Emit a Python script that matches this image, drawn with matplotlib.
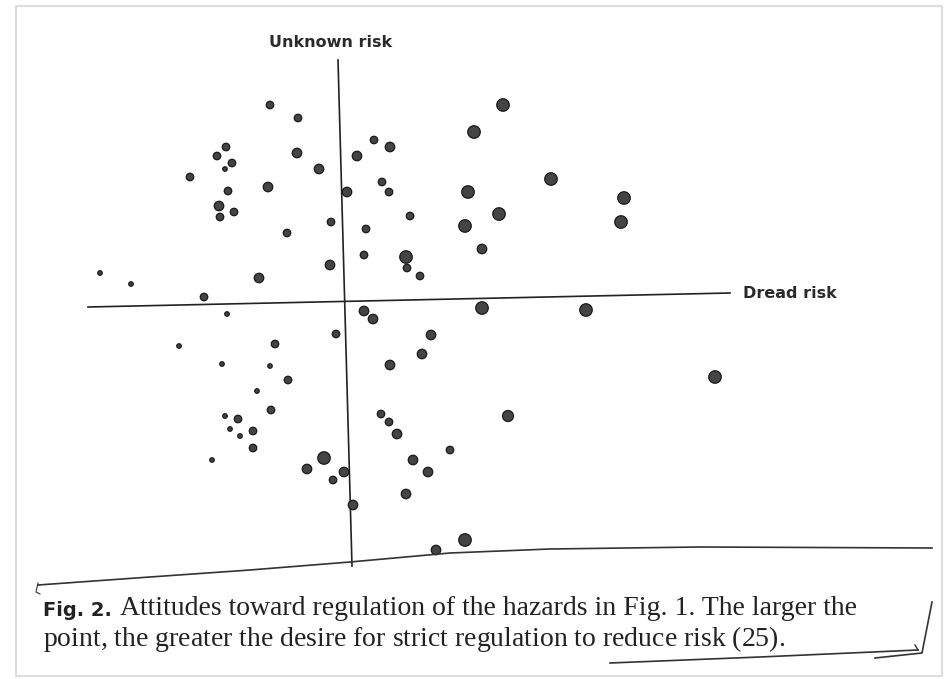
import matplotlib.pyplot as plt
import numpy as np

plt.rcParams['mathtext.fontset'] = 'custom'
plt.rcParams['mathtext.rm'] = 'Liberation Serif'
plt.rcParams['mathtext.it'] = 'Liberation Serif:italic'

# Factor-space position of each hazard (dread risk, unknown risk)
dread = [-0.76, -0.48, -1.20, -1.29, -1.14, -1.21, -0.49, -0.27, -1.56, -1.18,
         -0.78, 0.01, 0.11, -1.27, -1.12, -1.26, -0.15, -0.59, -0.16, -0.87,
         -2.46, -2.15, -1.42, 1.57, 1.28, 0.28, 0.44, 0.36, 0.43, 1.22,
         2.05, 2.78, 2.75, 1.53, 1.19, 0.64, 0.20, 1.36, 0.18, 0.60,
         0.61, 0.74, 0.18, 0.27, 1.36, 2.40, -0.10, 0.85, 0.76, 0.44,
         3.69, 1.62, 0.35, 0.43, 0.51, 1.04, 0.67, 0.82, 0.60, 1.19,
         0.90, -1.19, -1.67, -0.71, -1.24, -0.76, -0.58, -0.89, -0.75, -1.21,
         -1.08, -1.16, -0.93, -1.06, -0.93, -1.34, -0.22, -0.39, -0.02, -0.13,
         0.07]
unknown = [1.95, 1.82, 1.53, 1.44, 1.37, 1.31, 1.47, 1.31, 1.23, 1.09,
           1.13, 1.08, 1.44, 0.94, 0.88, 0.83, 0.78, 0.67, 0.35, 0.22,
           0.27, 0.16, 0.03, 1.95, 1.68, 1.60, 1.53, 1.18, 1.08, 1.08,
           1.21, 1.02, 0.78, 0.86, 0.74, 0.84, 0.71, 0.51, 0.45, 0.43,
           0.32, 0.24, -0.11, -0.19, -0.08, -0.10, -0.34, -0.35, -0.54, -0.65,
           -0.77, -1.16, -1.14, -1.22, -1.34, -1.50, -1.60, -1.72, -1.94, -2.40,
           -2.50, -0.14, -0.46, -0.44, -0.64, -0.66, -0.80, -0.91, -1.10, -1.16,
           -1.19, -1.29, -1.31, -1.36, -1.48, -1.60, -1.58, -1.69, -1.72, -1.80,
           -2.05]
# desire for strict regulation (1 = weak ... 4 = strong)
regulation = [2, 2, 2, 2, 2, 1, 3, 3, 2, 2,
              3, 3, 3, 3, 2, 2, 2, 2, 3, 3,
              1, 1, 2, 4, 4, 2, 3, 2, 2, 4,
              4, 4, 4, 4, 4, 2, 2, 3, 2, 4,
              2, 2, 3, 3, 4, 4, 2, 3, 3, 3,
              4, 3.5, 2, 2, 3, 2, 3, 3, 3, 4,
              3, 1, 1, 2, 1, 1, 2, 1, 2, 1,
              2, 1, 2, 1, 2, 1, 4, 3, 3, 2,
              3]

diam_px = {1: 4.5, 2: 7.5, 3: 9.5, 3.5: 11, 4: 12.5}
sizes = [(diam_px[r] * 0.72) ** 2 for r in regulation]

fig = plt.figure(figsize=(9.47, 6.79), dpi=100)
ax = fig.add_axes([0, 0, 1, 1])
ax.set_xlim(-3.46, 6.01)
ax.set_ylim(-3.79, 3.00)
ax.axis('off')

# axes of the factor space (slightly skewed, as in the scan)
ax.plot([-2.58, 3.84], [-0.07, 0.07], color='#222222', lw=1.2)
ax.plot([-0.08, 0.06], [2.40, -2.66], color='#222222', lw=1.2)

ax.scatter(dread, unknown, s=sizes, c='#444444', edgecolors='#1a1a1a',
           linewidths=0.9, zorder=3)

ax.text(-0.15, 2.50, 'Unknown risk', ha='center', va='bottom',
        fontsize=11.5, fontweight='semibold', color='#2a2a2a')
ax.text(3.97, 0.07, 'Dread risk', ha='left', va='center',
        fontsize=11.5, fontweight='bold', color='#2a2a2a')

# page edges / pen marks of the scan (pixel coords)
tr = fig.dpi_scale_trans
def px_line(xs, ys, **kw):
    fig.add_artist(plt.Line2D(np.array(xs) / 100, (679 - np.array(ys)) / 100,
                              transform=tr, **kw))

px_line([38, 150, 250, 350, 450, 550, 700, 932],
        [585, 577, 570, 562, 553, 549, 547, 548], color='#333333', lw=1.2)
px_line([38, 36, 40], [583, 592, 594], color='#333333', lw=0.8)
px_line([610, 760, 918], [663, 657, 650], color='#333333', lw=1.2)
px_line([875, 922, 932], [658, 653, 602], color='#333333', lw=1.2)
px_line([915, 918], [645, 650], color='#333333', lw=1.0)
px_line([16, 16, 942, 942, 16], [676, 6, 6, 676, 676], color='#dddddd', lw=1.5)

# caption
fig.text(43 / 947, 1 - 616 / 679, 'Fig. 2.', fontsize=14, fontweight='bold',
         family='DejaVu Sans', color='#222222', va='baseline')
fig.text(120 / 947, 1 - 615 / 679,
         'Attitudes toward regulation of the hazards in Fig. 1. The larger the',
         fontsize=20, family='Liberation Serif', color='#222222', va='baseline')
fig.text(43 / 947, 1 - 646 / 679,
         r'point, the greater the desire for strict regulation to reduce risk ($\mathit{25}$).',
         fontsize=20, family='Liberation Serif', color='#222222', va='baseline')

fig.savefig('out.png', dpi=100)
